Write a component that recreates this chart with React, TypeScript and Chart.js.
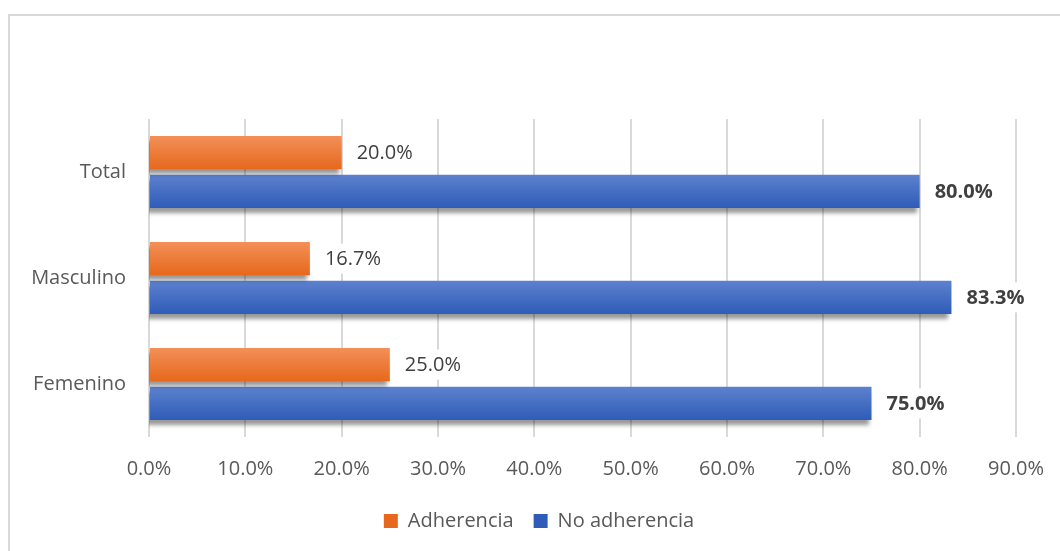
import React, { useEffect, useRef } from "react";
import { Chart, registerables } from "chart.js";

Chart.register(...registerables);

const categories = ["Total", "Masculino", "Femenino"];
const seriesNames = ["Adherencia", "No adherencia"];
const adherencia = [20.0, 16.7, 25.0];
const noAdherencia = [80.0, 83.3, 75.0];
const axisMax = 90;
const axisStep = 10;

const FONT = "'Open Sans', 'DejaVu Sans', sans-serif";
const CAT_PCT = 0.731;
const BAR_PCT = 0.857;

const gradStops = [
  ["rgb(242,144,88)", "rgb(231,104,28)"],
  ["rgb(93,129,206)", "rgb(46,92,184)"],
];
const solid = ["rgb(237,125,49)", "rgb(68,114,196)"];

function barFill(c: any) {
  const chart = c.chart;
  const ds = c.datasetIndex ?? 0;
  const ctx = chart.ctx;
  if (c.type !== "data") {
    const g = ctx.createLinearGradient(0, 511, 0, 527);
    g.addColorStop(0, gradStops[ds][0]);
    g.addColorStop(1, gradStops[ds][1]);
    return g;
  }
  const ys = chart.scales && chart.scales.y;
  if (!ys || ys.top === undefined) return solid[ds];
  const center = ys.getPixelForValue(c.dataIndex);
  const band = Math.abs(ys.getPixelForValue(1) - ys.getPixelForValue(0));
  if (!isFinite(center) || !isFinite(band) || band === 0) return solid[ds];
  const size = band * CAT_PCT;
  const chunk = size / 2;
  const mid = center - size / 2 + chunk * (ds + 0.5);
  const half = (chunk * BAR_PCT) / 2;
  const g = ctx.createLinearGradient(0, mid - half, 0, mid + half);
  g.addColorStop(0, gradStops[ds][0]);
  g.addColorStop(1, gradStops[ds][1]);
  return g;
}

const framePlugin = {
  id: "frame",
  beforeDraw(chart: any) {
    const ctx = chart.ctx;
    ctx.save();
    ctx.fillStyle = "#ffffff";
    ctx.fillRect(0, 0, chart.width, chart.height);
    ctx.strokeStyle = "#d9d9d9";
    ctx.lineWidth = 2;
    ctx.strokeRect(9, 15, chart.width + 20, chart.height + 20);
    ctx.restore();
  },
};

const legendShiftPlugin = {
  id: "legendShift",
  afterLayout(chart: any) {
    const lg = chart.legend;
    if (lg) {
      lg.left += 31;
      lg.right += 31;
    }
  },
};

const shadowPlugin = {
  id: "barShadow",
  beforeDatasetsDraw(chart: any) {
    const ctx = chart.ctx;
    ctx.save();
    ctx.shadowColor = "rgba(0,0,0,0.4)";
    ctx.shadowBlur = 4;
    ctx.shadowOffsetX = -3;
    ctx.shadowOffsetY = 5;
  },
  afterDatasetsDraw(chart: any) {
    chart.ctx.restore();
  },
};

const labelPlugin = {
  id: "valueLabels",
  afterDatasetsDraw(chart: any) {
    const ctx = chart.ctx;
    ctx.save();
    chart.data.datasets.forEach((ds: any, di: number) => {
      const meta = chart.getDatasetMeta(di);
      const bold = di === 1;
      ctx.font = `${bold ? "bold " : ""}20px ${FONT}`;
      ctx.textAlign = "left";
      ctx.textBaseline = "middle";
      meta.data.forEach((el: any, i: number) => {
        const text = Number(ds.data[i]).toFixed(1) + "%";
        const x = el.x + 15;
        const y = el.y;
        const w = ctx.measureText(text).width;
        ctx.fillStyle = "#ffffff";
        ctx.fillRect(x - 6, y - 15, w + 12, 30);
        ctx.fillStyle = "#404040";
        ctx.fillText(text, x, y + 1);
      });
    });
    ctx.restore();
  },
};

export default function App() {
  const ref = useRef<HTMLCanvasElement | null>(null);

  useEffect(() => {
    if (!ref.current) return;
    const chart = new Chart(ref.current, {
      type: "bar",
      data: {
        labels: categories,
        datasets: [
          {
            label: seriesNames[0],
            data: adherencia,
            backgroundColor: barFill,
            borderWidth: 0,
            categoryPercentage: CAT_PCT,
            barPercentage: BAR_PCT,
          },
          {
            label: seriesNames[1],
            data: noAdherencia,
            backgroundColor: barFill,
            borderWidth: 0,
            categoryPercentage: CAT_PCT,
            barPercentage: BAR_PCT,
          },
        ],
      },
      options: {
        indexAxis: "y",
        animation: false,
        responsive: false,
        maintainAspectRatio: false,
        layout: { padding: { left: 0, right: 44, top: 119, bottom: 10 } },
        scales: {
          x: {
            min: 0,
            max: axisMax,
            afterFit: (s: any) => {
              s.height = 54;
              s.paddingRight = 0;
            },
            ticks: {
              stepSize: axisStep,
              padding: 20,
              color: "#595959",
              font: { family: FONT, size: 20 },
              callback: (v: any) => Number(v).toFixed(1) + "%",
            },
            grid: { color: "#d9d9d9", lineWidth: 2, drawTicks: false },
            border: { display: false },
          },
          y: {
            afterFit: (s: any) => {
              s.width = 149;
            },
            ticks: {
              padding: 23,
              color: "#595959",
              font: { family: FONT, size: 20 },
            },
            grid: { display: false, drawTicks: false },
            border: { display: false },
          },
        },
        plugins: {
          legend: {
            position: "bottom",
            labels: {
              boxWidth: 14,
              boxHeight: 14,
              padding: 20,
              color: "#595959",
              font: { family: FONT, size: 20 },
            },
          },
          tooltip: { enabled: false },
        },
      },
      plugins: [framePlugin, legendShiftPlugin, shadowPlugin, labelPlugin],
    } as any);
    return () => chart.destroy();
  }, []);

  return (
    <div style={{ position: "fixed", left: 0, top: 0, width: 1060, height: 551, background: "#fff" }}>
      <canvas ref={ref} width={1060} height={551} style={{ display: "block" }} />
    </div>
  );
}
